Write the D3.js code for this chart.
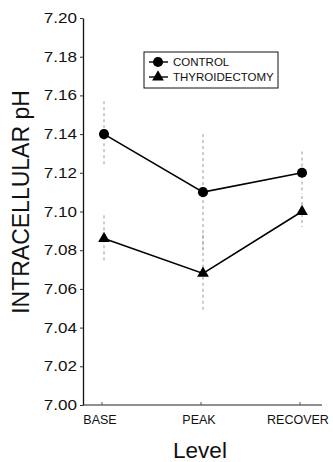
<!DOCTYPE html>
<html>
<head>
<meta charset="utf-8">
<script src="https://cdn.jsdelivr.net/npm/d3@7/dist/d3.min.js"></script>
<style>
  body { margin: 0; background: #fff; }
  svg { display: block; font-family: "Liberation Sans", Arial, sans-serif; }
</style>
</head>
<body>
<div id="chart"></div>
<script>
// data
var levels = ["BASE", "PEAK", "RECOVER"];
var controlValues = [7.140, 7.110, 7.120];
var controlErr = [0.017, 0.030, 0.011];
var thyroValues = [7.086, 7.068, 7.100];
var thyroErr = [0.012, 0.020, 0.008];
var yTicks = [7.00, 7.02, 7.04, 7.06, 7.08, 7.10, 7.12, 7.14, 7.16, 7.18, 7.20];
var legendNames = ["CONTROL", "THYROIDECTOMY"];

var width = 333;
var height = 462;

var svg = d3.select("#chart")
    .append("svg")
    .attr("width", width)
    .attr("height", height);

var x = d3.scalePoint()
    .domain(levels)
    .range([104, 302]);

var y = d3.scaleLinear()
    .domain([7.00, 7.20])
    .range([405, 18]);

// y axis
var yAxis = svg.append("g")
    .attr("transform", "translate(83,0)")
    .call(d3.axisLeft(y).tickValues(yTicks).tickSize(3).tickSizeOuter(0).tickFormat(""));
yAxis.select(".domain").attr("stroke", "#111").attr("stroke-width", 1.3);
yAxis.selectAll(".tick line").attr("stroke", "#333");

svg.append("g").selectAll("text")
    .data(yTicks)
    .enter()
    .append("text")
    .attr("transform", d => "translate(77," + (y(d) + 5) + ") scale(1.22,1)")
    .attr("text-anchor", "end")
    .attr("font-size", 14)
    .attr("fill", "#111")
    .text(d => d.toFixed(2));

// x axis
svg.append("line")
    .attr("x1", 83)
    .attr("x2", 322)
    .attr("y1", 405)
    .attr("y2", 405)
    .attr("stroke", "#222")
    .attr("stroke-width", 1.2);

svg.append("g").selectAll("line")
    .data(levels)
    .enter()
    .append("line")
    .attr("x1", d => x(d) - 2)
    .attr("x2", d => x(d) - 2)
    .attr("y1", 405)
    .attr("y2", 402)
    .attr("stroke", "#555");

svg.append("g").selectAll("text")
    .data(levels)
    .enter()
    .append("text")
    .attr("x", d => x(d) - 4)
    .attr("y", 424)
    .attr("text-anchor", "middle")
    .attr("font-size", 12.5)
    .attr("fill", "#111")
    .text(d => d);

// axis titles
svg.append("text")
    .attr("x", 200)
    .attr("y", 458)
    .attr("text-anchor", "middle")
    .attr("font-size", 22.5)
    .attr("fill", "#111")
    .text("Level");

svg.append("text")
    .attr("transform", "translate(29,202) rotate(-90)")
    .attr("text-anchor", "middle")
    .attr("font-size", 23)
    .attr("fill", "#111")
    .text("INTRACELLULAR pH");

// series
var series = [
    { name: legendNames[0], values: controlValues, err: controlErr, symbol: d3.symbolCircle, size: 80 },
    { name: legendNames[1], values: thyroValues, err: thyroErr, symbol: d3.symbolTriangle, size: 60 }
];

var line = d3.line()
    .x((d, i) => x(levels[i]))
    .y(d => y(d));

series.forEach(function (s) {
    var g = svg.append("g");
    // error bars (dotted grey)
    g.selectAll("line.err")
        .data(s.values)
        .enter()
        .append("line")
        .attr("class", "err")
        .attr("x1", (d, i) => x(levels[i]))
        .attr("x2", (d, i) => x(levels[i]))
        .attr("y1", (d, i) => y(d + s.err[i]))
        .attr("y2", (d, i) => y(d - s.err[i]))
        .attr("stroke", "#9a9a9a")
        .attr("stroke-width", 1)
        .attr("stroke-dasharray", "3,3");

    g.append("path")
        .datum(s.values)
        .attr("d", line)
        .attr("fill", "none")
        .attr("stroke", "#000")
        .attr("stroke-width", 1.6);

    g.selectAll("path.mark")
        .data(s.values)
        .enter()
        .append("path")
        .attr("class", "mark")
        .attr("d", d3.symbol().type(s.symbol).size(s.size))
        .attr("transform", (d, i) => "translate(" + x(levels[i]) + "," + y(d) + ")")
        .attr("fill", "#000");
});

// legend
var legend = svg.append("g");
legend.append("rect")
    .attr("x", 144)
    .attr("y", 52)
    .attr("width", 134)
    .attr("height", 36)
    .attr("fill", "#fff")
    .attr("stroke", "#111")
    .attr("stroke-width", 1);

series.forEach(function (s, i) {
    var ly = 62 + i * 15;
    legend.append("line")
        .attr("x1", 149)
        .attr("x2", 168)
        .attr("y1", ly)
        .attr("y2", ly)
        .attr("stroke", "#000")
        .attr("stroke-width", 1.4);
    legend.append("path")
        .attr("d", d3.symbol().type(s.symbol).size(s.size))
        .attr("transform", "translate(158," + ly + ")")
        .attr("fill", "#000");
    legend.append("text")
        .attr("x", 173)
        .attr("y", ly + 4)
        .attr("font-size", 11.5)
        .attr("fill", "#111")
        .text(s.name);
});
</script>
</body>
</html>
